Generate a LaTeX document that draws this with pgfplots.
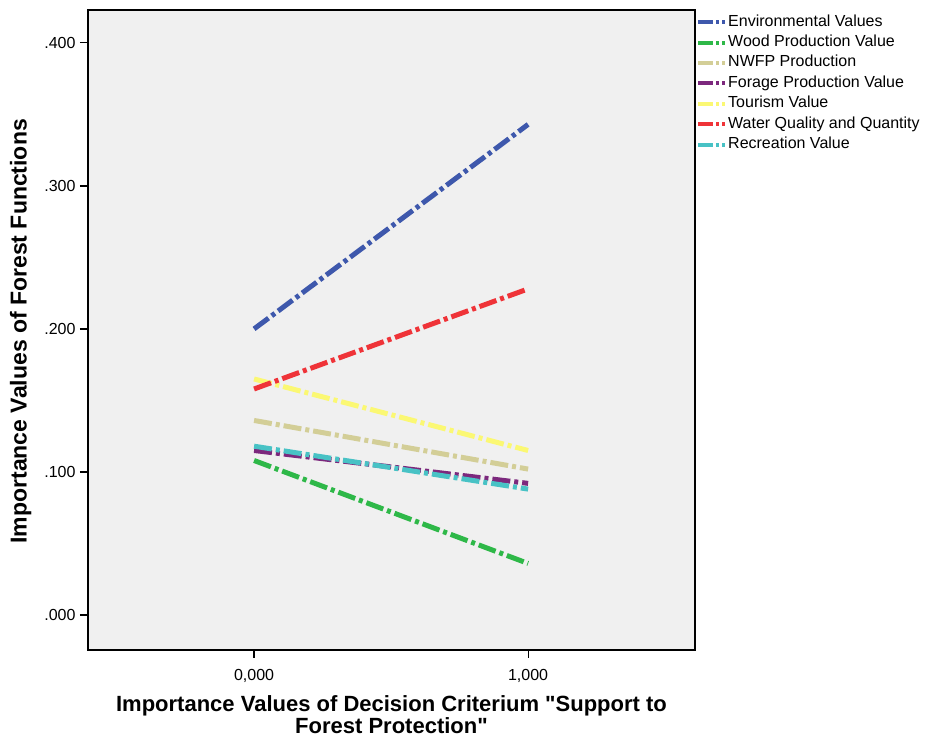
\documentclass[border=0pt]{standalone}
\usepackage{fontspec}
\setmainfont{Liberation Sans}
\usepackage{pgfplots}
\pgfplotsset{compat=1.18}
\definecolor{cEnv}{RGB}{62,88,172}
\definecolor{cWood}{RGB}{46,184,72}
\definecolor{cNWFP}{RGB}{211,206,151}
\definecolor{cFor}{RGB}{124,40,125}
\definecolor{cTour}{RGB}{251,248,115}
\definecolor{cWat}{RGB}{239,51,56}
\definecolor{cRec}{RGB}{72,194,197}
\definecolor{bgc}{RGB}{240,240,240}
\begin{document}
\begin{tikzpicture}[x=1pt,y=1pt]
\useasboundingbox (0,0) rectangle (927,738);
\begin{axis}[
  at={(88pt,88pt)}, anchor=south west,
  scale only axis, width=607pt, height=640pt,
  xmin=-0.606, xmax=1.609, ymin=-0.0245, ymax=0.423,
  axis background/.style={fill=bgc},
  axis line style={black, line width=1.2pt},
  xtick={0,1}, xticklabels={{0,000},{1,000}},
  ytick={0,0.1,0.2,0.3,0.4}, yticklabels={.000,.100,.200,.300,.400},
  tick align=outside, tick pos=left,
  major tick length=8pt,
  every tick/.style={black, line width=1.2pt},
  tick label style={font=\fontsize{16}{19}\selectfont},
  xticklabel style={yshift=-8pt},
  yticklabel style={xshift=-1pt},
  xlabel={Importance Values of Decision Criterium \textquotedbl Support to\\Forest Protection\textquotedbl},
  ylabel={Importance Values of Forest Functions},
  every axis x label/.style={at={(axis description cs:0.5,-0.101)}, anchor=center, align=center, inner sep=0pt, font=\bfseries\fontsize{22}{21.5}\selectfont},
  every axis y label/.style={at={(axis description cs:-0.111,0.498)}, rotate=90, anchor=center, font=\bfseries\fontsize{23}{26}\selectfont},
  legend style={at={(rel axis cs:1,1)}, anchor=north west, xshift=-2pt, yshift=-1pt, draw=none, fill=none,
    font=\fontsize{16}{19}\selectfont, row sep=2.4pt,
    nodes={inner sep=1pt, text height=12pt, text depth=4pt}},
  legend cell align=left,
  legend image code/.code={\draw[#1, line width=4pt, dash pattern=on 15pt off 3pt on 3pt off 3pt on 3pt off 3pt] (0pt,0pt) -- (27pt,0pt);},
  every axis plot/.append style={line width=5pt, dash pattern=on 18pt off 4pt on 4pt off 4pt},
  clip=false,
]
\addplot[cEnv] coordinates {(0,0.200) (1,0.343)};
\addlegendentry{Environmental Values}
\addplot[cWood] coordinates {(0,0.108) (1,0.036)};
\addlegendentry{Wood Production Value}
\addplot[cNWFP] coordinates {(0,0.136) (1,0.102)};
\addlegendentry{NWFP Production}
\addplot[cFor] coordinates {(0,0.115) (1,0.092)};
\addlegendentry{Forage Production Value}
\addplot[cTour] coordinates {(0,0.165) (1,0.115)};
\addlegendentry{Tourism Value}
\addplot[cWat] coordinates {(0,0.158) (1,0.228)};
\addlegendentry{Water Quality and Quantity}
\addplot[cRec] coordinates {(0,0.118) (1,0.088)};
\addlegendentry{Recreation Value}
\end{axis}
\end{tikzpicture}
\end{document}
